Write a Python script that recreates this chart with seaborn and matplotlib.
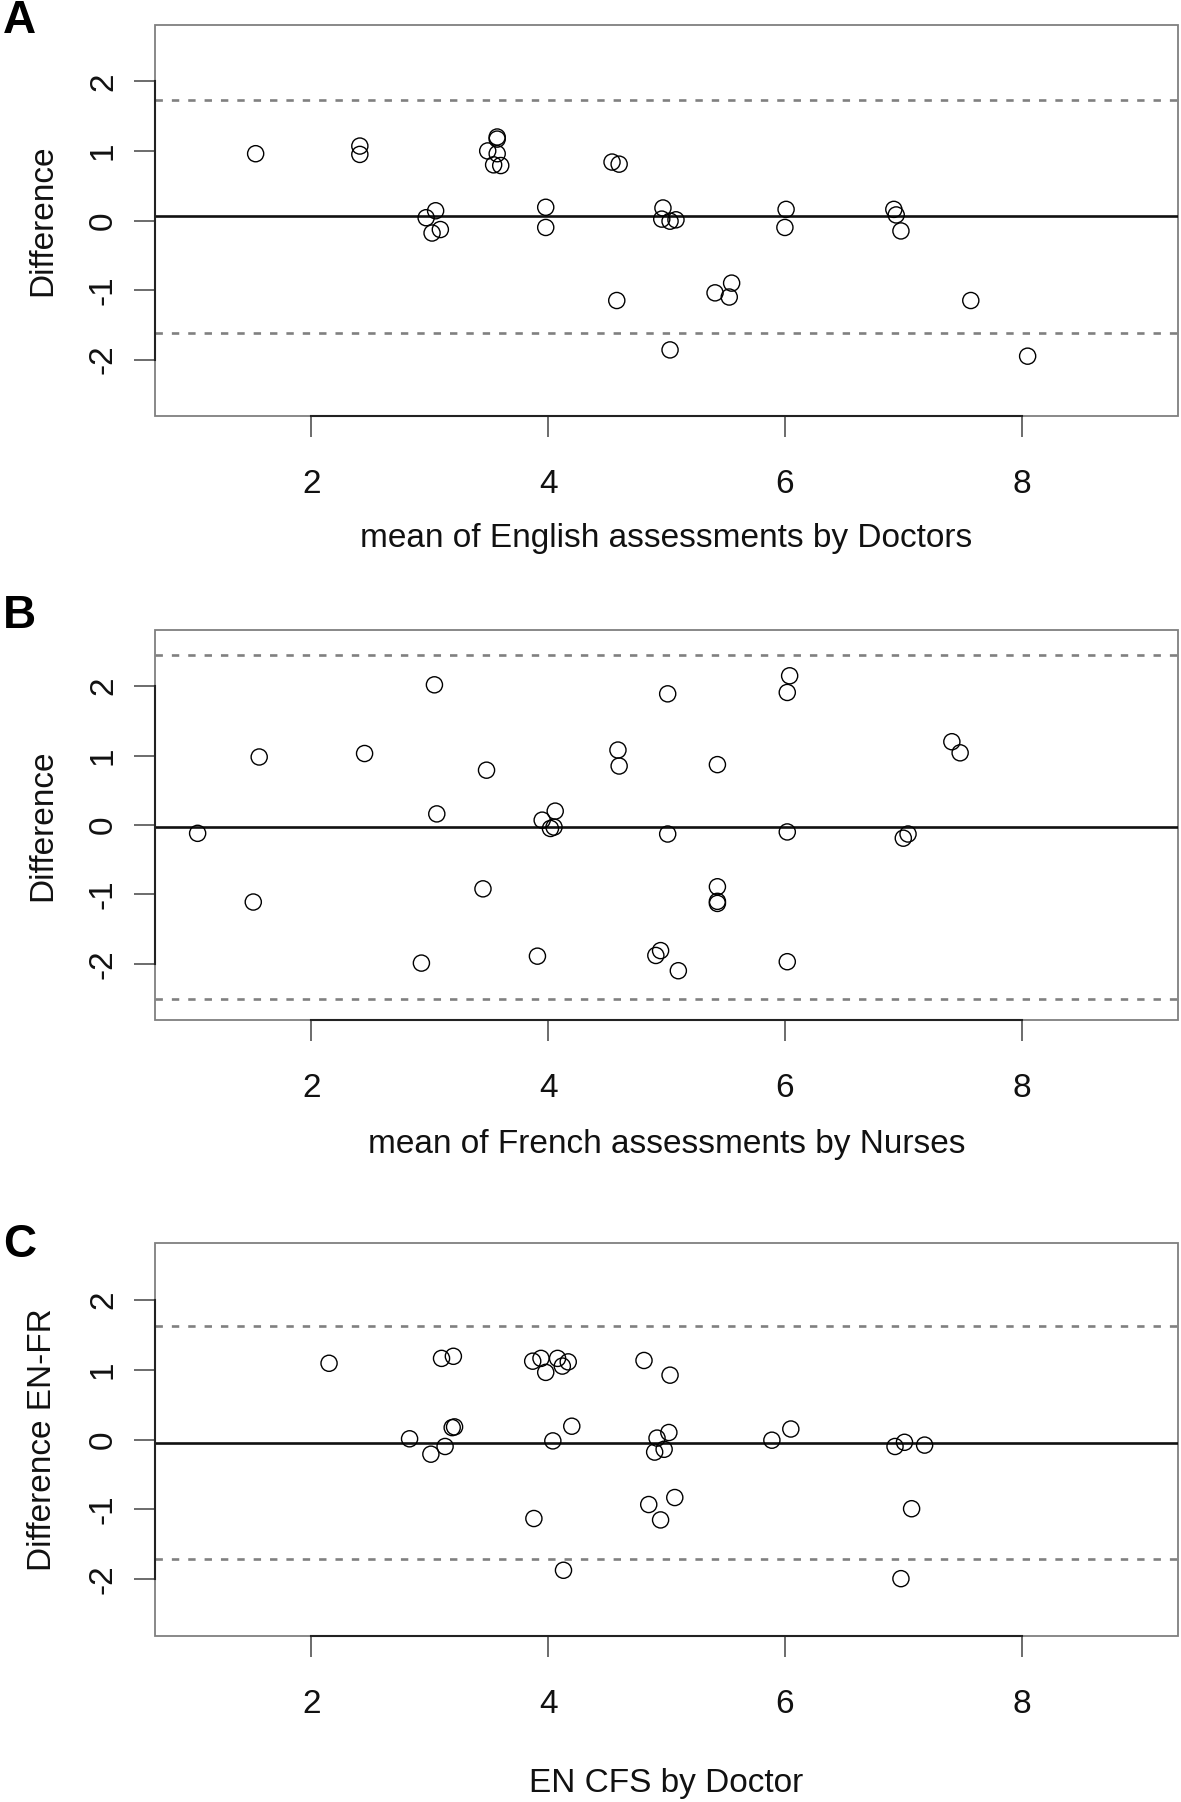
import pandas as pd
import seaborn as sns
import matplotlib.pyplot as plt

# Panel A: English assessments by doctors
a_mean = [1.53, 2.41, 2.41, 2.97, 3.05, 3.02, 3.09, 3.57, 3.57, 3.49, 3.57, 3.54, 3.60,
          3.98, 3.98, 4.54, 4.60, 4.58, 4.97, 4.96, 5.03, 5.08, 5.03, 5.55, 5.41, 5.53,
          6.01, 6.00, 6.92, 6.94, 6.98, 7.57, 8.05]
a_diff = [0.96, 1.07, 0.95, 0.04, 0.14, -0.18, -0.13, 1.20, 1.17, 1.00, 0.96, 0.80, 0.79,
          0.19, -0.10, 0.84, 0.81, -1.15, 0.18, 0.02, -0.01, 0.01, -1.86, -0.90, -1.04, -1.10,
          0.16, -0.10, 0.16, 0.08, -0.15, -1.15, -1.95]
a_limits = [0.06, 1.73, -1.61]   # bias, upper, lower

# Panel B: French assessments by nurses
b_mean = [1.04, 1.56, 1.51, 2.45, 3.04, 3.06, 2.93, 3.48, 3.45, 3.91, 3.95, 4.06, 4.02,
          4.05, 4.59, 4.60, 5.01, 5.01, 4.95, 4.91, 5.10, 5.43, 5.43, 5.43, 5.43, 6.04,
          6.02, 6.02, 6.02, 7.41, 7.48, 7.00, 7.04]
b_diff = [-0.12, 0.98, -1.11, 1.03, 2.02, 0.16, -1.99, 0.79, -0.92, -1.89, 0.07, 0.20, -0.05,
          -0.03, 1.08, 0.85, 1.89, -0.13, -1.81, -1.88, -2.10, 0.87, -0.89, -1.10, -1.13, 2.15,
          1.91, -0.10, -1.97, 1.20, 1.04, -0.19, -0.13]
b_limits = [-0.03, 2.45, -2.51]

# Panel C: EN CFS by doctor, EN-FR difference
c_mean = [2.15, 2.83, 3.01, 3.10, 3.20, 3.13, 3.19, 3.21, 3.88, 3.87, 3.94, 3.98, 4.08,
          4.12, 4.17, 4.04, 4.20, 4.13, 4.81, 5.03, 4.92, 5.02, 4.90, 4.98, 4.85, 5.07,
          4.95, 5.89, 6.05, 6.93, 7.01, 7.18, 7.07, 6.98]
c_diff = [1.09, 0.01, -0.21, 1.16, 1.19, -0.10, 0.17, 0.18, -1.13, 1.12, 1.16, 0.96, 1.16,
          1.05, 1.11, -0.02, 0.19, -1.87, 1.13, 0.92, 0.02, 0.10, -0.18, -0.14, -0.93, -0.83,
          -1.15, -0.01, 0.15, -0.10, -0.04, -0.08, -0.99, -1.99]
c_limits = [-0.05, 1.62, -1.71]

x_ticks = [2, 4, 6, 8]
y_ticks = [-2, -1, 0, 1, 2]

sns.set_theme(style='white')
plt.rcParams['font.family'] = ['Liberation Sans', 'DejaVu Sans']

W, H = 1181, 1802
fig = plt.figure(figsize=(W / 100, H / 100), dpi=100)


def panel(top, bottom, x, y, limits, xlabel, ylabel, letter, letter_y, xlabel_off):
    left, right = 155, 1178
    ax = fig.add_axes([left / W, 1 - bottom / H, (right - left) / W, (bottom - top) / H])
    df = pd.DataFrame({'mean': x, 'diff': y})
    sns.scatterplot(data=df, x='mean', y='diff', ax=ax, marker='o', s=135,
                    facecolors='none', edgecolor='black', linewidth=1.0, zorder=3)
    bias, upper, lower = limits
    ax.axhline(bias, color='#111111', lw=1.9, zorder=2)
    for v in (upper, lower):
        ax.axhline(v, color='#808080', lw=1.9, ls=(0, (2.8, 3.4)), zorder=2)

    ax.set_xlim(0.68, 9.32)
    ax.set_ylim(-2.81, 2.81)
    ax.set_xticks(x_ticks)
    ax.set_yticks(y_ticks)
    ax.set_xticklabels([str(t) for t in x_ticks])
    ax.set_yticklabels([str(t) for t in y_ticks])

    # R-style axes: axis line only between first and last tick, grey box around
    for side in ('top', 'right'):
        ax.spines[side].set_visible(False)
    ax.spines['left'].set_bounds(y_ticks[0], y_ticks[-1])
    ax.spines['bottom'].set_bounds(x_ticks[0], x_ticks[-1])
    for side in ('left', 'bottom'):
        ax.spines[side].set_color('#222222')
        ax.spines[side].set_linewidth(1.5)
        ax.spines[side].set_zorder(4)
    ax.add_patch(plt.Rectangle((0, 0), 1, 1, transform=ax.transAxes, fill=False,
                               ec='#7f7f7f', lw=1.3, clip_on=False, zorder=1))

    ax.tick_params(axis='both', which='major', bottom=True, left=True, direction='out',
                   length=15, width=1.1, color='#444444', labelsize=24, labelcolor='#111111')
    ax.tick_params(axis='x', pad=23)
    ax.tick_params(axis='y', pad=11, labelrotation=90)
    for t in ax.get_yticklabels():
        t.set_va('center')

    ax.set_xlabel(xlabel, fontsize=24, color='#111111')
    ax.set_ylabel(ylabel, fontsize=24, color='#111111')
    ax.xaxis.set_label_coords(0.5, xlabel_off)
    ax.xaxis.label.set_va('center')
    ax.yaxis.set_label_coords(-0.110, 0.5)
    ax.yaxis.label.set_va('center')

    fig.text(3 / W, 1 - letter_y / H, letter, fontsize=33, fontweight='bold',
             ha='left', va='center', color='black')
    return ax


panel(25, 416, a_mean, a_diff, a_limits, 'mean of English assessments by Doctors',
      'Difference', 'A', 21, -0.313)
panel(630, 1020, b_mean, b_diff, b_limits, 'mean of French assessments by Nurses',
      'Difference', 'B', 616, -0.318)
panel(1243, 1636, c_mean, c_diff, c_limits, 'EN CFS by Doctor',
      'Difference EN-FR', 'C', 1245, -0.376)

fig.savefig('out.png', dpi=100)
